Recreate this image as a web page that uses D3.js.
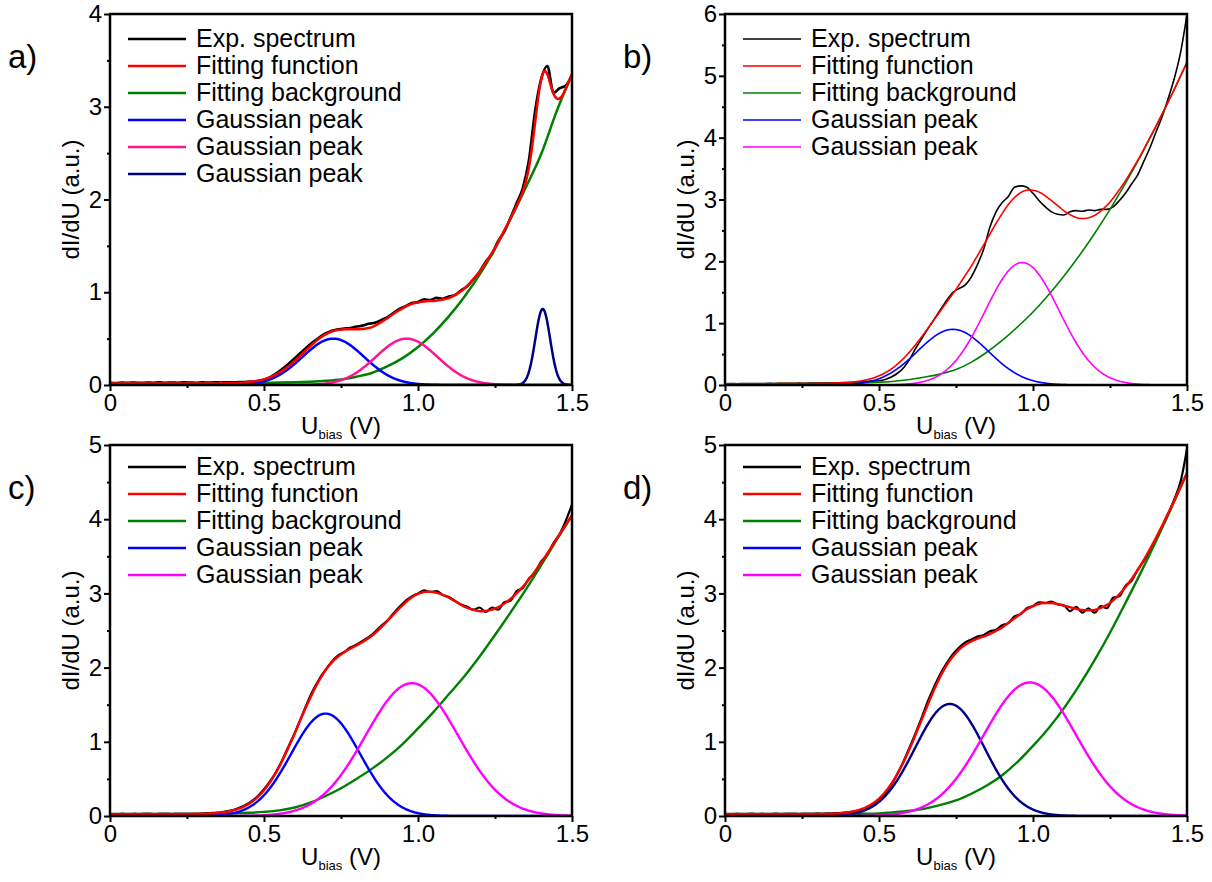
<!DOCTYPE html>
<html>
<head>
<meta charset="utf-8">
<script src="https://cdn.jsdelivr.net/npm/d3@7"></script>
<style>
  body { margin: 0; background: #fff; }
  svg text { font-family: "Liberation Sans", Arial, Helvetica, sans-serif; fill: #000; }
</style>
</head>
<body>
<svg id="fig" width="1212" height="882"></svg>
<script>
// ---- sampling steps (V) ----
const expStep = 0.02;   // measured spectrum sampling
const bgStep = 0.05;    // background sampling

// ---- axes ----
const xTicks = [0, 0.5, 1.0, 1.5];
const xTickLabels = ["0", "0.5", "1.0", "1.5"];
const xMinorTicks = [0.25, 0.75, 1.25];
const yTicksA = [0, 1, 2, 3, 4];
const yTicksB = [0, 1, 2, 3, 4, 5, 6];
const yTicksCD = [0, 1, 2, 3, 4, 5];

// ---- legend labels ----
const legendLabelsA = ["Exp. spectrum", "Fitting function", "Fitting background",
                       "Gaussian peak", "Gaussian peak", "Gaussian peak"];
const legendLabels = ["Exp. spectrum", "Fitting function", "Fitting background",
                      "Gaussian peak", "Gaussian peak"];

// ---- a) ----
const expA = [
  0.025,0.022,0.026,0.024,0.027,0.023,0.026,0.025,0.028,0.024,
  0.027,0.025,0.028,0.026,0.024,0.028,0.026,0.029,0.027,0.030,
  0.028,0.031,0.033,0.036,0.042,0.058,0.085,0.125,0.175,0.230,
  0.290,0.350,0.410,0.465,0.515,0.555,0.585,0.600,0.610,0.615,
  0.630,0.640,0.660,0.670,0.700,0.730,0.775,0.820,0.850,0.885,
  0.895,0.925,0.915,0.940,0.930,0.955,0.970,1.020,1.065,1.140,
  1.220,1.330,1.410,1.550,1.650,1.800,1.960,2.120,2.420,2.950,
  3.300,3.440,3.150,3.200,3.230,3.340
];
const bgA = [
  0.015,0.015,0.015,0.015,0.015,0.015,0.016,0.017,0.018,0.020,
  0.022,0.026,0.030,0.036,0.045,0.060,0.090,0.130,0.200,0.290,
  0.410,0.560,0.740,0.950,1.190,1.470,1.790,2.130,2.490,2.950,
  3.350
];
const peakCentersA = [0.725, 0.963, 1.405];
const peakHeightsA = [0.50, 0.50, 0.82];
const peakWidthsA  = [0.100, 0.100, 0.024];

// ---- b) ----
const expB = [
  0.020,0.022,0.021,0.024,0.022,0.025,0.024,0.026,0.025,0.027,
  0.028,0.027,0.030,0.029,0.031,0.033,0.032,0.035,0.036,0.038,
  0.040,0.045,0.050,0.055,0.062,0.070,0.090,0.130,0.190,0.280,
  0.420,0.600,0.760,0.920,1.070,1.220,1.370,1.500,1.560,1.620,
  1.750,1.950,2.200,2.550,2.800,2.950,3.050,3.200,3.220,3.200,
  3.100,2.980,2.880,2.800,2.760,2.750,2.800,2.820,2.810,2.830,
  2.820,2.840,2.840,2.880,2.980,3.100,3.250,3.400,3.620,3.840,
  4.100,4.350,4.650,4.980,5.400,6.000
];
const bgB = [
  0.020,0.020,0.020,0.021,0.022,0.023,0.025,0.027,0.030,0.035,
  0.045,0.060,0.090,0.130,0.180,0.250,0.370,0.530,0.720,0.940,
  1.180,1.455,1.760,2.090,2.450,2.840,3.260,3.710,4.190,4.690,
  5.220
];
const peakCentersB = [0.740, 0.965];
const peakHeightsB = [0.90, 1.98];
const peakWidthsB  = [0.115, 0.120];

// ---- c) ----
const expC = [
  0.030,0.028,0.032,0.029,0.031,0.030,0.033,0.029,0.031,0.032,
  0.030,0.033,0.031,0.034,0.032,0.035,0.038,0.044,0.050,0.065,
  0.080,0.110,0.150,0.200,0.270,0.360,0.470,0.600,0.760,0.940,
  1.120,1.320,1.520,1.700,1.850,1.970,2.080,2.160,2.210,2.270,
  2.310,2.360,2.410,2.480,2.560,2.630,2.730,2.820,2.900,2.960,
  3.000,3.040,3.020,3.030,2.980,2.950,2.900,2.850,2.820,2.780,
  2.810,2.750,2.810,2.780,2.880,2.900,3.030,3.070,3.200,3.280,
  3.430,3.520,3.680,3.800,3.980,4.200
];
const bgC = [
  0.020,0.020,0.020,0.020,0.022,0.024,0.027,0.031,0.036,0.043,
  0.055,0.075,0.115,0.180,0.270,0.375,0.500,0.635,0.790,0.970,
  1.180,1.400,1.640,1.880,2.150,2.440,2.740,3.050,3.380,3.720,
  4.050
];
const peakCentersC = [0.700, 0.980];
const peakHeightsC = [1.38, 1.79];
const peakWidthsC  = [0.112, 0.150];

// ---- d) ----
const expD = [
  0.030,0.028,0.031,0.029,0.032,0.030,0.031,0.029,0.032,0.030,
  0.031,0.033,0.030,0.034,0.032,0.035,0.033,0.036,0.038,0.042,
  0.050,0.060,0.075,0.100,0.150,0.210,0.300,0.420,0.570,0.740,
  0.930,1.130,1.340,1.560,1.750,1.920,2.060,2.180,2.270,2.340,
  2.380,2.420,2.440,2.490,2.510,2.570,2.600,2.690,2.720,2.800,
  2.830,2.880,2.870,2.890,2.850,2.840,2.760,2.820,2.740,2.800,
  2.740,2.830,2.800,2.940,2.960,3.100,3.170,3.320,3.440,3.580,
  3.740,3.900,4.080,4.280,4.520,4.950
];
const bgD = [
  0.020,0.020,0.020,0.020,0.021,0.022,0.023,0.025,0.028,0.031,
  0.035,0.050,0.070,0.100,0.150,0.210,0.300,0.410,0.550,0.730,
  0.945,1.180,1.450,1.760,2.100,2.470,2.870,3.280,3.710,4.160,
  4.620
];
const peakCentersD = [0.730, 0.990];
const peakHeightsD = [1.51, 1.80];
const peakWidthsD  = [0.113, 0.150];

// ---- layout and styling of the four panels ----
const plotW = 462, plotH = 371;
const panels = [
  { tag: "a)", left: 110, top: 14,  yMax: 4, yTicks: yTicksA, exp: expA, bg: bgA,
    centers: peakCentersA, heights: peakHeightsA, widths: peakWidthsA,
    peakColors: ["#0000ff", "#ff1493", "#000080"], legendPeakColors: ["#0000ff", "#ff1493", "#000080"],
    labels: legendLabelsA, legendY: 39, lw: 2.5, expLw: 2.6 },
  { tag: "b)", left: 725, top: 14,  yMax: 6, yTicks: yTicksB, exp: expB, bg: bgB,
    centers: peakCentersB, heights: peakHeightsB, widths: peakWidthsB,
    peakColors: ["#0000ff", "#ff00ff"], legendPeakColors: ["#0000ff", "#ff00ff"],
    labels: legendLabels, legendY: 39, lw: 1.6, expLw: 1.6 },
  { tag: "c)", left: 110, top: 445, yMax: 5, yTicks: yTicksCD, exp: expC, bg: bgC,
    centers: peakCentersC, heights: peakHeightsC, widths: peakWidthsC,
    peakColors: ["#0000ff", "#ff00ff"], legendPeakColors: ["#0000ff", "#ff00ff"],
    labels: legendLabels, legendY: 467, lw: 2.4, expLw: 2.2 },
  { tag: "d)", left: 725, top: 445, yMax: 5, yTicks: yTicksCD, exp: expD, bg: bgD,
    centers: peakCentersD, heights: peakHeightsD, widths: peakWidthsD,
    peakColors: ["#00008b", "#ff00ff"], legendPeakColors: ["#0000ff", "#ff00ff"],
    labels: legendLabels, legendY: 467, lw: 2.4, expLw: 2.2 }
];

const svg = d3.select("#fig");
const fineU = d3.range(0, 751).map(i => i * 0.002);

function gaussian(u, c, h, w) {
  const d = u - c;
  return h * Math.exp(-(d * d) / (2 * w * w));
}

panels.forEach((p, pi) => {
  const x = d3.scaleLinear().domain([0, 1.5]).range([p.left, p.left + plotW]);
  const y = d3.scaleLinear().domain([0, p.yMax]).range([p.top + plotH, p.top]);
  const g = svg.append("g");

  const clipId = "clip" + pi;
  svg.append("defs").append("clipPath").attr("id", clipId)
    .append("rect").attr("x", p.left).attr("y", p.top - 2)
    .attr("width", plotW).attr("height", plotH + 2);

  // background sampled on its own grid, read back piecewise for the fit sum
  const bgU = p.bg.map((_, i) => i * bgStep);
  const bgAt = d3.scaleLinear().domain(bgU).range(p.bg).clamp(true);

  const line = d3.line().x(d => x(d[0])).y(d => y(d[1]));
  const smooth = d3.line().x(d => x(d[0])).y(d => y(d[1])).curve(d3.curveMonotoneX);

  const curves = g.append("g").attr("clip-path", `url(#${clipId})`)
    .attr("fill", "none").attr("stroke-linejoin", "round").attr("stroke-linecap", "round");

  // measured spectrum
  curves.append("path")
    .datum(p.exp.map((v, i) => [i * expStep, v]))
    .attr("d", smooth).attr("stroke", "#000").attr("stroke-width", p.expLw);

  // fitting background
  curves.append("path")
    .datum(p.bg.map((v, i) => [bgU[i], v]))
    .attr("d", smooth).attr("stroke", "#008000").attr("stroke-width", p.lw);

  // Gaussian peaks
  p.centers.forEach((c, k) => {
    curves.append("path")
      .datum(fineU.map(u => [u, gaussian(u, c, p.heights[k], p.widths[k])]))
      .attr("d", line).attr("stroke", p.peakColors[k]).attr("stroke-width", p.lw);
  });

  // fitting function = background + peaks
  curves.append("path")
    .datum(fineU.map(u => [u, bgAt(u) + d3.sum(p.centers, (c, k) => gaussian(u, c, p.heights[k], p.widths[k]))]))
    .attr("d", line).attr("stroke", "#ff0000").attr("stroke-width", p.lw);

  // axes
  const yAxis = d3.axisLeft(y).tickValues(p.yTicks).tickSize(6).tickPadding(2).tickFormat(d3.format("d"));
  const yMinor = d3.axisLeft(y).tickValues(p.yTicks.slice(0, -1).map(t => t + 0.5)).tickSize(3).tickFormat("");
  const xAxis = d3.axisBottom(x).tickValues(xTicks).tickSize(6).tickPadding(3)
    .tickFormat((d, i) => xTickLabels[i]);
  const xMinor = d3.axisBottom(x).tickValues(xMinorTicks).tickSize(3).tickFormat("");

  [[yAxis, `translate(${p.left},0)`], [yMinor, `translate(${p.left},0)`],
   [xAxis, `translate(0,${p.top + plotH})`], [xMinor, `translate(0,${p.top + plotH})`]]
    .forEach(([ax, tr]) => {
      const a = g.append("g").attr("transform", tr).call(ax);
      a.select(".domain").remove();
      a.selectAll("line").attr("stroke", "#000").attr("stroke-width", 2);
      a.selectAll("text").attr("font-size", 24)
        .attr("font-family", "'Liberation Sans', Arial, sans-serif").attr("fill", "#000");
    });

  // frame
  g.append("rect").attr("x", p.left).attr("y", p.top).attr("width", plotW).attr("height", plotH)
    .attr("fill", "none").attr("stroke", "#000").attr("stroke-width", 2.5);

  // axis titles
  g.append("text")
    .attr("transform", `translate(${p.left - 31},${p.top + plotH / 2}) rotate(-90)`)
    .attr("text-anchor", "middle").attr("font-size", 24).text("dI/dU (a.u.)");

  const xt = g.append("text").attr("x", p.left + plotW / 2).attr("y", p.top + plotH + 49)
    .attr("text-anchor", "middle").attr("font-size", 24);
  xt.append("tspan").text("U");
  xt.append("tspan").attr("font-size", 13).attr("dy", 5).text("bias");
  xt.append("tspan").attr("dy", -5).text(" (V)");

  // panel tag
  g.append("text").attr("x", p.left - 102).attr("y", p.top + 54)
    .attr("font-size", 33).text(p.tag);

  // legend
  const legColors = ["#000", "#ff0000", "#008000"].concat(p.legendPeakColors);
  const leg = g.append("g");
  p.labels.forEach((lab, i) => {
    const ly = p.legendY + i * 27;
    leg.append("line").attr("x1", p.left + 18).attr("x2", p.left + 76)
      .attr("y1", ly).attr("y2", ly)
      .attr("stroke", legColors[i]).attr("stroke-width", p.lw);
    leg.append("text").attr("x", p.left + 86).attr("y", ly + 8)
      .attr("font-size", 25).text(lab);
  });
});
</script>
</body>
</html>
